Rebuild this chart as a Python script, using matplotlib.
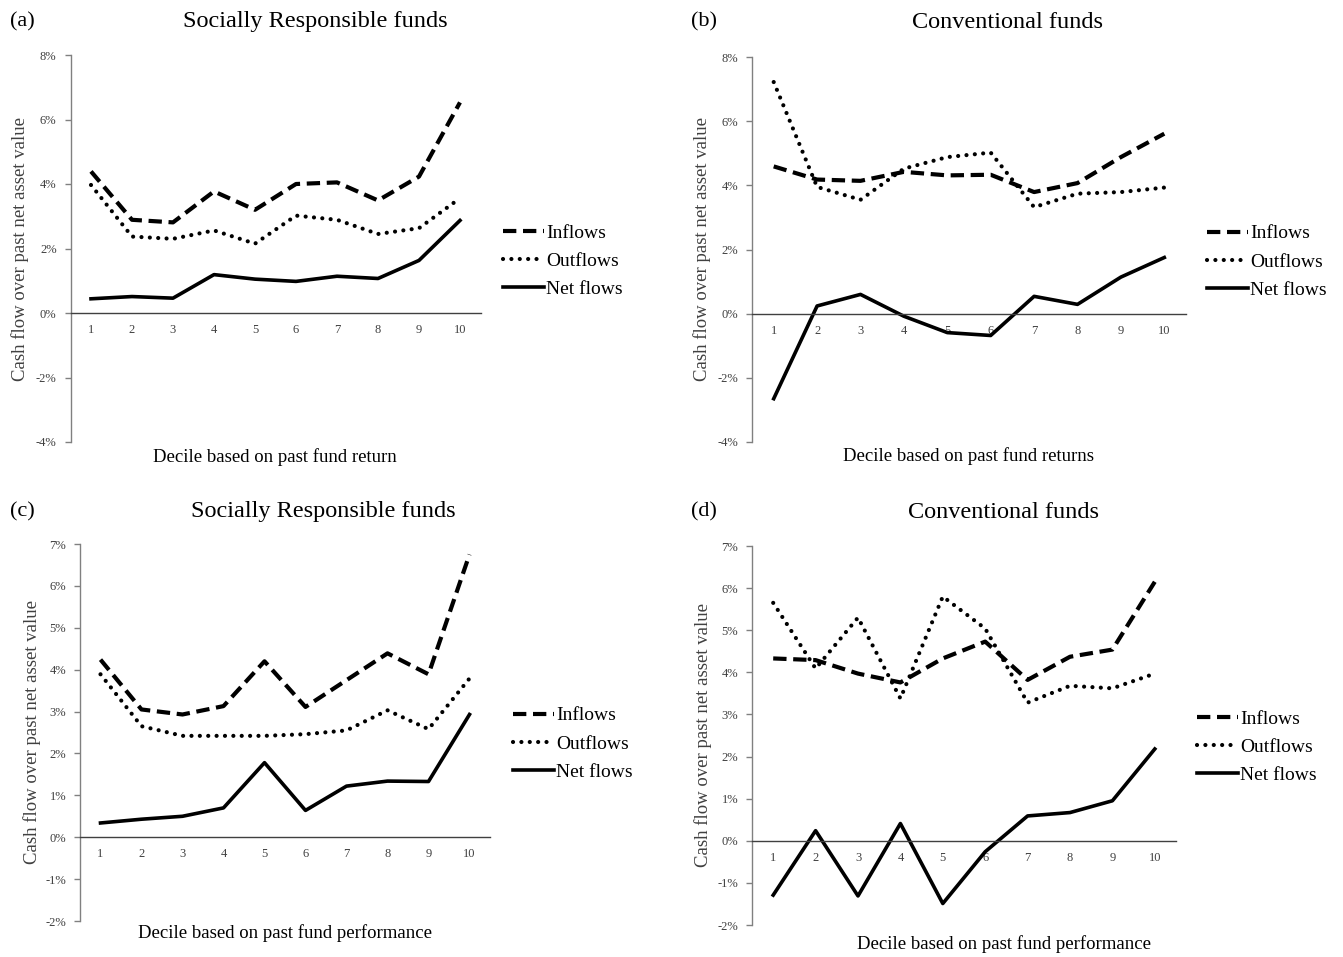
import numpy as np
import matplotlib.pyplot as plt
from matplotlib.ticker import FuncFormatter

plt.rcParams['font.family'] = ['Liberation Serif', 'DejaVu Serif']

deciles = list(range(1, 11))

# panel (a) SRI funds, past return
a_in = [4.39, 2.89, 2.81, 3.77, 3.2, 4.0, 4.05, 3.49, 4.23, 6.53]
a_out = [3.97, 2.37, 2.3, 2.56, 2.15, 3.02, 2.89, 2.45, 2.63, 3.56]
a_net = [0.44, 0.51, 0.46, 1.19, 1.05, 0.98, 1.14, 1.07, 1.63, 2.87]

# panel (b) conventional funds, past return
b_in = [4.59, 4.18, 4.14, 4.42, 4.31, 4.33, 3.79, 4.07, 4.88, 5.61]
b_out = [7.22, 3.95, 3.55, 4.52, 4.88, 5.02, 3.32, 3.74, 3.79, 3.93]
b_net = [-2.65, 0.24, 0.6, -0.08, -0.59, -0.68, 0.54, 0.29, 1.14, 1.75]

# panel (c) SRI funds, past performance
c_in = [4.24, 3.05, 2.93, 3.13, 4.2, 3.11, 3.75, 4.39, 3.89, 6.75]
c_out = [3.89, 2.65, 2.42, 2.42, 2.42, 2.46, 2.55, 3.03, 2.58, 3.79]
c_net = [0.34, 0.43, 0.5, 0.7, 1.78, 0.64, 1.22, 1.34, 1.33, 2.93]

# panel (d) conventional funds, past performance
d_in = [4.33, 4.29, 3.97, 3.76, 4.33, 4.73, 3.82, 4.37, 4.54, 6.15]
d_out = [5.65, 4.09, 5.3, 3.38, 5.8, 5.04, 3.28, 3.68, 3.62, 3.97]
d_net = [-1.29, 0.24, -1.31, 0.41, -1.49, -0.26, 0.59, 0.67, 0.95, 2.18]

W, H = 1343, 957
fig = plt.figure(figsize=(W / 100, H / 100), dpi=100)
grey = '#404040'


def box(l, t, r, b):
    return [l / W, 1 - b / H, (r - l) / W, (b - t) / H]


def px(x, y):
    return x / W, 1 - y / H


panels = [
    dict(pos=box(70.5, 55, 480.5, 442), ylim=(-4, 8), step=2,
         data=(a_in, a_out, a_net), tag='(a)', tag_x=10, title='Socially Responsible funds',
         title_xy=(315, 22), xlabel='Decile based on past fund return', xl_xy=(275, 457),
         yl_xy=(20, 249), leg_xy=(503, 261)),
    dict(pos=box(752, 57, 1186, 442), ylim=(-4, 8), step=2,
         data=(b_in, b_out, b_net), tag='(b)', tag_x=691, title='Conventional funds',
         title_xy=(1008, 22), xlabel='Decile based on past fund returns', xl_xy=(968, 456),
         yl_xy=(702, 249), leg_xy=(1207, 262)),
    dict(pos=box(80, 544, 490, 921), ylim=(-2, 7), step=1,
         data=(c_in, c_out, c_net), tag='(c)', tag_x=10, title='Socially Responsible funds',
         title_xy=(323, 512), xlabel='Decile based on past fund performance', xl_xy=(285, 933),
         yl_xy=(32, 732), leg_xy=(513, 744)),
    dict(pos=box(752, 546, 1176, 925), ylim=(-2, 7), step=1,
         data=(d_in, d_out, d_net), tag='(d)', tag_x=691, title='Conventional funds',
         title_xy=(1003, 512), xlabel='Decile based on past fund performance', xl_xy=(1004, 944),
         yl_xy=(703, 735), leg_xy=(1197, 747)),
]

for p in panels:
    ax = fig.add_axes(p['pos'])
    ins, outs, nets = p['data']
    l1, = ax.plot(deciles, ins, color='black', lw=3, linestyle=(0, (3.2, 1.6)),
                  label='Inflows')
    l2, = ax.plot(deciles, outs, color='black', lw=3, linestyle=(0, (0.01, 2.0)),
                  dash_capstyle='round', label='Outflows')
    l3, = ax.plot(deciles, nets, color='black', lw=2.6, label='Net flows')
    ax.set_xlim(0.5, 10.5)
    ax.set_ylim(*p['ylim'])
    ax.set_yticks(np.arange(p['ylim'][0], p['ylim'][1] + 0.1, p['step']))
    ax.yaxis.set_major_formatter(FuncFormatter(lambda v, _: f'{v:.0f}%'))
    ax.set_xticks(deciles)
    for s in ['top', 'right']:
        ax.spines[s].set_visible(False)
    ax.spines['bottom'].set_position(('data', 0))
    ax.spines['bottom'].set_color(grey)
    ax.spines['left'].set_color('#808080')
    ax.spines['bottom'].set_linewidth(1.0)
    ax.spines['left'].set_linewidth(1.0)
    ax.tick_params(axis='x', length=0, pad=8, labelsize=9, labelcolor=grey)
    ax.tick_params(axis='y', length=4, width=1, color='#808080', pad=6,
                   labelsize=9, labelcolor=grey)
    ax.patch.set_alpha(0)

    fig.text(*px(p['tag_x'], p['title_xy'][1]), p['tag'], fontsize=16, va='center', ha='left')
    fig.text(*px(*p['title_xy']), p['title'], fontsize=17.5, va='center', ha='center')
    fig.text(*px(*p['xl_xy']), p['xlabel'], fontsize=13.5, va='center', ha='center')
    fig.text(*px(*p['yl_xy']), 'Cash flow over past net asset value', fontsize=13.5,
             va='center', ha='center', rotation=90, color=grey)

    fig.legend(handles=[l1, l2, l3], loc='center left',
               bbox_to_anchor=px(*p['leg_xy']),
               frameon=False, fontsize=14, handlelength=2.1, handletextpad=0.1,
               labelspacing=0.55, borderpad=0, borderaxespad=0)

fig.savefig('out.png', dpi=100)
